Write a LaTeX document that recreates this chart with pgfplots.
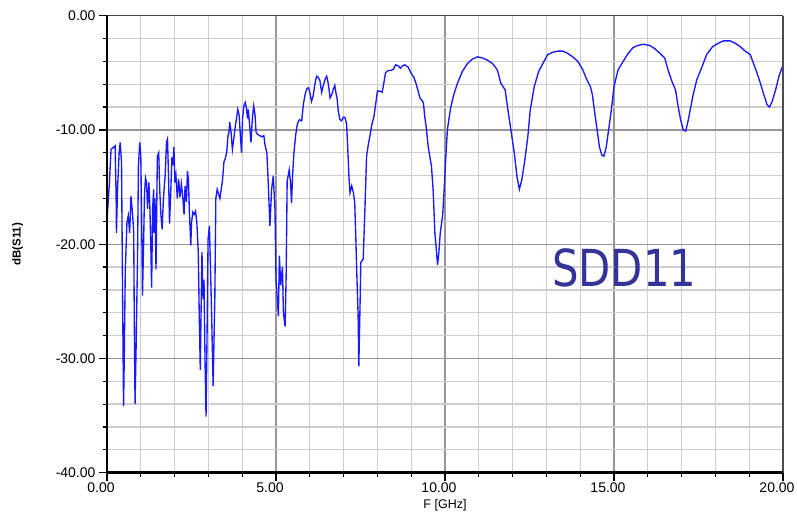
\documentclass[border=0pt]{standalone}
\usepackage{pgfplots}
\pgfplotsset{compat=1.18}
\usepackage{fontspec}
\setmainfont{Liberation Sans}
\newfontfamily\sddfont{DejaVu Sans}
\definecolor{curve}{RGB}{25,25,255}
\definecolor{sddblue}{RGB}{51,51,153}
\definecolor{majgrid}{RGB}{150,150,150}
\definecolor{mingrid}{RGB}{205,205,205}

\pgfplotstableread{
x y
0.00 -17.9
0.07 -14.7
0.12 -11.7
0.20 -11.5
0.24 -11.4
0.27 -15.8
0.28 -19.0
0.31 -15.3
0.36 -12.0
0.39 -11.1
0.43 -12.8
0.46 -24.2
0.49 -34.2
0.51 -30.1
0.54 -22.5
0.59 -18.1
0.63 -17.5
0.67 -19.0
0.71 -15.8
0.76 -17.5
0.79 -19.0
0.81 -27.5
0.83 -34.0
0.86 -29.2
0.90 -21.9
0.93 -13.1
0.97 -11.1
1.00 -12.3
1.03 -19.0
1.05 -24.5
1.08 -20.4
1.11 -15.5
1.14 -14.2
1.17 -14.6
1.20 -16.9
1.24 -14.6
1.27 -16.9
1.30 -20.7
1.32 -23.8
1.35 -16.9
1.38 -15.2
1.39 -19.0
1.42 -16.0
1.45 -22.2
1.49 -12.3
1.53 -12.0
1.56 -15.2
1.59 -17.2
1.63 -18.7
1.67 -16.0
1.72 -14.0
1.76 -11.1
1.79 -10.8
1.82 -14.0
1.85 -18.2
1.88 -16.0
1.92 -12.4
1.95 -13.1
1.98 -11.5
2.01 -14.6
2.04 -14.0
2.08 -16.0
2.12 -14.3
2.16 -15.9
2.20 -14.7
2.24 -15.8
2.28 -17.4
2.31 -14.9
2.35 -16.3
2.38 -13.6
2.41 -14.4
2.44 -17.4
2.48 -20.1
2.50 -18.1
2.54 -17.2
2.58 -17.4
2.62 -17.1
2.66 -18.2
2.70 -20.7
2.73 -26.3
2.76 -31.0
2.78 -26.6
2.81 -20.7
2.84 -24.8
2.87 -23.1
2.90 -30.1
2.93 -35.1
2.96 -28.0
2.99 -19.6
3.03 -18.4
3.05 -20.7
3.09 -25.4
3.14 -32.4
3.19 -24.7
3.22 -16.0
3.26 -15.2
3.30 -15.6
3.34 -16.0
3.38 -15.2
3.42 -14.3
3.46 -12.8
3.50 -12.5
3.54 -12.0
3.58 -10.5
3.61 -10.2
3.63 -9.3
3.67 -10.2
3.71 -11.7
3.75 -10.8
3.80 -9.6
3.83 -9.0
3.87 -8.2
3.91 -8.7
3.94 -10.2
3.98 -12.0
4.01 -9.0
4.05 -7.9
4.09 -7.6
4.12 -8.0
4.16 -9.0
4.18 -8.2
4.22 -9.6
4.26 -11.1
4.30 -9.0
4.34 -7.9
4.38 -8.7
4.41 -10.2
4.46 -10.4
4.52 -10.5
4.58 -10.6
4.64 -10.5
4.68 -11.4
4.73 -12.0
4.77 -14.6
4.82 -18.4
4.87 -15.2
4.92 -14.0
4.97 -17.0
5.00 -23.0
5.07 -26.3
5.10 -21.0
5.14 -23.6
5.19 -22.0
5.22 -26.0
5.27 -27.2
5.30 -22.8
5.33 -14.5
5.39 -13.5
5.43 -14.6
5.46 -16.4
5.49 -14.0
5.53 -12.0
5.58 -10.5
5.63 -9.5
5.69 -9.1
5.76 -9.2
5.81 -7.75
5.86 -6.9
5.91 -6.4
5.96 -6.3
6.00 -6.7
6.05 -7.5
6.10 -7.0
6.15 -6.0
6.20 -5.3
6.25 -5.4
6.30 -5.7
6.35 -6.7
6.40 -6.1
6.45 -5.6
6.50 -5.3
6.55 -6.0
6.60 -7.2
6.65 -6.9
6.70 -6.4
6.74 -6.1
6.77 -6.7
6.81 -7.3
6.84 -8.3
6.89 -9.1
6.94 -9.2
6.99 -8.9
7.04 -8.9
7.09 -9.5
7.12 -11.4
7.16 -14.2
7.19 -15.5
7.24 -14.9
7.29 -15.5
7.33 -16.4
7.36 -19.3
7.39 -22.5
7.43 -26.3
7.45 -30.7
7.48 -26.3
7.51 -21.6
7.58 -21.3
7.63 -17.0
7.68 -12.3
7.73 -11.3
7.78 -10.5
7.83 -9.6
7.90 -8.8
7.96 -7.5
8.00 -6.6
8.07 -6.6
8.14 -6.7
8.19 -5.9
8.24 -5.0
8.32 -4.8
8.39 -4.8
8.47 -4.7
8.54 -4.3
8.62 -4.4
8.68 -4.6
8.74 -4.4
8.81 -4.3
8.91 -4.5
9.01 -5.1
9.08 -5.4
9.16 -6.1
9.26 -7.2
9.36 -7.6
9.40 -8.8
9.45 -9.9
9.50 -11.4
9.55 -12.3
9.60 -13.2
9.65 -15.3
9.70 -19.0
9.75 -20.7
9.78 -21.8
9.82 -20.7
9.86 -19.0
9.93 -17.5
9.97 -15.5
10.02 -12.6
10.07 -10.0
10.17 -8.0
10.27 -6.8
10.37 -5.9
10.51 -4.9
10.66 -4.2
10.81 -3.8
10.96 -3.6
11.11 -3.7
11.26 -3.9
11.41 -4.2
11.55 -4.75
11.65 -5.9
11.78 -6.5
11.85 -8.0
11.95 -10.0
12.05 -12.0
12.13 -14.1
12.20 -15.2
12.27 -14.4
12.35 -12.9
12.45 -10.6
12.52 -8.3
12.64 -6.2
12.77 -4.9
12.89 -4.2
13.04 -3.4
13.19 -3.2
13.34 -3.1
13.49 -3.1
13.63 -3.3
13.78 -3.6
13.93 -4.0
14.08 -4.75
14.18 -5.5
14.30 -6.2
14.36 -6.9
14.43 -8.5
14.50 -10.0
14.57 -11.5
14.64 -12.2
14.70 -12.3
14.77 -11.5
14.84 -10.0
14.92 -8.3
15.00 -6.2
15.12 -4.75
15.27 -4.0
15.42 -3.3
15.56 -2.8
15.71 -2.6
15.86 -2.5
16.06 -2.6
16.21 -2.9
16.36 -3.3
16.50 -3.7
16.60 -4.75
16.72 -5.8
16.82 -6.5
16.90 -8.0
16.97 -9.1
17.05 -10.0
17.12 -10.1
17.20 -9.1
17.27 -8.0
17.35 -6.8
17.45 -5.6
17.60 -4.5
17.74 -3.4
17.92 -2.7
18.09 -2.4
18.24 -2.2
18.43 -2.2
18.58 -2.4
18.73 -2.7
18.88 -3.1
19.03 -3.4
19.13 -4.2
19.23 -5.0
19.33 -5.9
19.43 -6.9
19.53 -7.8
19.60 -8.0
19.68 -7.5
19.78 -6.5
19.88 -5.3
20.00 -4.3
}\sddtable

\begin{document}
\begin{tikzpicture}
\useasboundingbox (-107pt,-43.3pt) rectangle (690pt,472.7pt);
\begin{axis}[
  at={(0pt,0pt)}, anchor=south west,
  scale only axis, width=676pt, height=457pt,
  xmin=0, xmax=20, ymin=-40, ymax=0,
  xtick={0,5,10,15,20}, xticklabels={0.00,5.00,10.00,15.00,20.00},
  ytick={-40,-30,-20,-10,0}, yticklabels={-40.00,-30.00,-20.00,-10.00,0.00},
  minor x tick num=4, minor y tick num=4,
  xtick pos=left, ytick pos=left,
  grid=both,
  major grid style={draw=majgrid, line width=1.3pt},
  minor grid style={draw=mingrid, line width=1.3pt},
  axis line style={draw=none},
  tick align=outside,
  major tick length=8pt, minor tick length=4pt,
  tick style={black, line width=1.2pt},
  xticklabel style={font=\fontsize{14}{14}\selectfont, xshift=-6pt, yshift=2pt},
  yticklabel style={font=\fontsize{14}{14}\selectfont},
  xlabel={F [GHz]},
  ylabel={dB(S11)},
  xlabel style={font=\fontsize{12.5}{12.5}\selectfont, at={(axis description cs:0.5,-0.071)}, anchor=center},
  ylabel style={font=\bfseries\fontsize{11.5}{11.5}\selectfont, at={(axis description cs:-0.132,0.5)}, anchor=center, rotate=0},
  clip=false,
]
\addplot[curve, line width=1.35pt] table[x=x, y=y] {\sddtable};
\draw[black, line width=1.8pt] (rel axis cs:0,0) -- (rel axis cs:0,1);
\draw[black!75, line width=1.5pt] (rel axis cs:0,1) -- (rel axis cs:1,1);
\draw[black!70, line width=2.2pt] (rel axis cs:1,0) -- (rel axis cs:1,1);
\draw[black, line width=3pt] (rel axis cs:0,0) -- (rel axis cs:1,0);
\node[font=\sddfont\fontsize{51}{51}\selectfont, text=sddblue, xscale=0.82] at (axis description cs:0.765,0.448) {SDD11};
\end{axis}
\end{tikzpicture}
\end{document}
